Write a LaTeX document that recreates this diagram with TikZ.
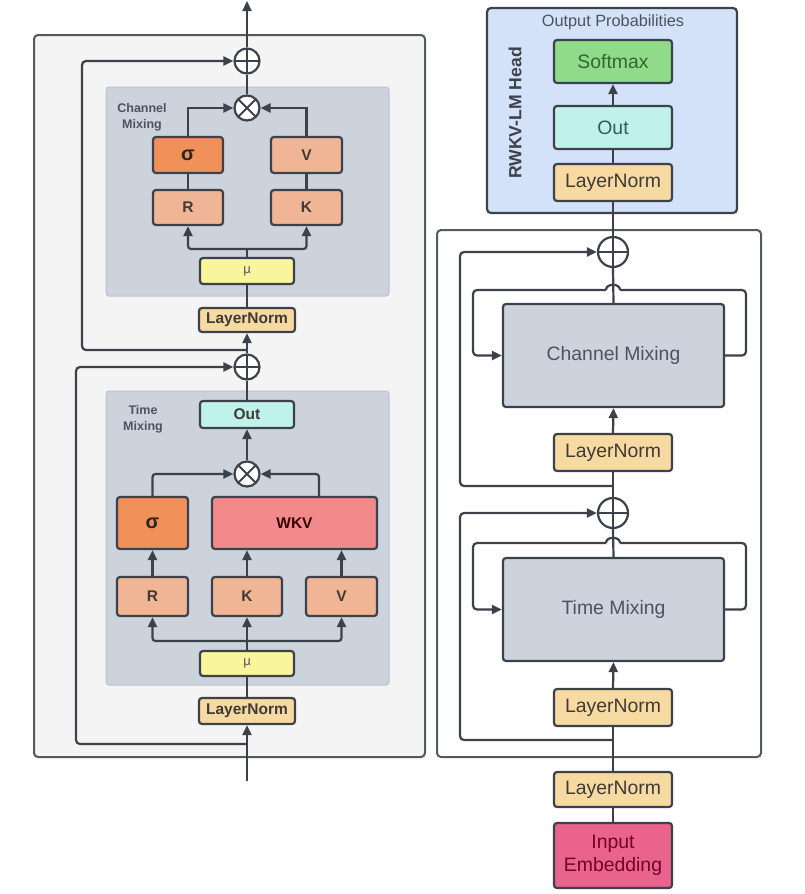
\documentclass[tikz,border=0pt]{standalone}
\usepackage{fontspec}
\setmainfont{Liberation Sans}
\usetikzlibrary{arrows.meta}

\definecolor{ink}{HTML}{3D4149}
\definecolor{outerfill}{HTML}{F4F4F4}
\definecolor{outerline}{HTML}{55585D}
\definecolor{mixfill}{HTML}{CDD3DD}
\definecolor{mixline}{HTML}{BCC2CA}
\definecolor{projfill}{HTML}{EFB594}
\definecolor{sigfill}{HTML}{EF9159}
\definecolor{wkvfill}{HTML}{F28A8C}
\definecolor{mufill}{HTML}{F8F59C}
\definecolor{lnfill}{HTML}{F6DAA2}
\definecolor{outfill}{HTML}{BEF2EB}
\definecolor{smfill}{HTML}{90DB89}
\definecolor{headfill}{HTML}{D3E2F8}
\definecolor{embfill}{HTML}{E9638C}
\definecolor{txtdark}{HTML}{3F3A36}
\definecolor{txtgray}{HTML}{4C5360}

\tikzset{
  x=1pt, y=-1pt,
  conn/.style={draw=ink, line width=2.2pt},
  arr/.style={conn, -{Triangle[length=10pt,width=9pt]}},
  boxbase/.style={draw=ink, line width=2.2pt, rounded corners=3pt, inner sep=0pt, align=center},
  smallbox/.style={boxbase, font=\bfseries\fontsize{15.5}{18}\selectfont, text=txtdark},
  bigbox/.style={boxbase, font=\fontsize{19.4}{23}\selectfont, text=txtgray},
  mixpanel/.style={draw=mixline, line width=1pt, fill=mixfill, rounded corners=3pt, inner sep=0pt},
  panellabel/.style={font=\bfseries\fontsize{12.5}{16}\selectfont, text=txtgray, align=center},
  oplus/.style={circle, draw=ink, line width=2.2pt, fill=white, inner sep=0pt,
    path picture={\draw[ink, line width=2pt]
      (path picture bounding box.north) -- (path picture bounding box.south)
      (path picture bounding box.west) -- (path picture bounding box.east);}},
  otimes/.style={circle, draw=ink, line width=2.2pt, fill=white, inner sep=0pt,
    path picture={\draw[ink, line width=2pt]
      (path picture bounding box.north west) -- (path picture bounding box.south east)
      (path picture bounding box.north east) -- (path picture bounding box.south west);}}
}

\begin{document}
\begin{tikzpicture}
\useasboundingbox (0,0) rectangle (804,894);

% ---------------- single RWKV block, detailed ----------------
\node[draw=outerline, line width=2pt, fill=outerfill, rounded corners=4pt,
      minimum width=391, minimum height=722, inner sep=0pt] (block) at (229.5,396) {};

% channel mixing part
\node[mixpanel, minimum width=283, minimum height=209] (cmpanel) at (247.5,191.5) {};
\node[panellabel] (cmlabel) at (142,117) {Channel\\Mixing};
\node[oplus, minimum size=25] (plusC) at (247,61) {};
\node[otimes, minimum size=25] (timesC) at (247,108) {};
\node[smallbox, fill=sigfill, minimum width=70, minimum height=36,
      font=\bfseries\fontsize{20}{22}\selectfont, text=black!85] (sigC) at (188,155) {σ};
\node[smallbox, fill=projfill, minimum width=71, minimum height=36] (vC) at (306.5,155) {V};
\node[smallbox, fill=projfill, minimum width=70, minimum height=35] (rC) at (188,207.5) {R};
\node[smallbox, fill=projfill, minimum width=71, minimum height=35] (kC) at (306.5,207.5) {K};
\node[smallbox, fill=mufill, minimum width=94, minimum height=26,
      font=\fontsize{13}{15}\selectfont, text=txtgray] (muC) at (247,271) {μ};
\node[smallbox, fill=lnfill, minimum width=96, minimum height=24] (lnC) at (247,320) {LayerNorm};

% time mixing part
\node[oplus, minimum size=25] (plusT) at (247,367) {};
\node[mixpanel, minimum width=283, minimum height=294] (tmpanel) at (247.5,538) {};
\node[panellabel] (tmlabel) at (143,419) {Time\\Mixing};
\node[smallbox, fill=outfill, minimum width=94, minimum height=27] (outT) at (247,414.5) {Out};
\node[otimes, minimum size=25] (timesT) at (247,474) {};
\node[smallbox, fill=sigfill, minimum width=71, minimum height=52,
      font=\bfseries\fontsize{20}{22}\selectfont, text=black!85] (sigT) at (152.5,523) {σ};
\node[smallbox, fill=wkvfill, minimum width=165, minimum height=52, text=black!65!red!60!black] (wkv) at (294.5,523) {WKV};
\node[smallbox, fill=projfill, minimum width=71, minimum height=39] (rT) at (152.5,596.5) {R};
\node[smallbox, fill=projfill, minimum width=70, minimum height=39] (kT) at (247,596.5) {K};
\node[smallbox, fill=projfill, minimum width=71, minimum height=39] (vT) at (341.5,596.5) {V};
\node[smallbox, fill=mufill, minimum width=94, minimum height=25,
      font=\fontsize{13}{15}\selectfont, text=txtgray] (muT) at (247,663.5) {μ};
\node[smallbox, fill=lnfill, minimum width=96, minimum height=26] (lnT) at (247,711) {LayerNorm};

\coordinate (outL) at (247,1);
\coordinate (inL) at (247,781);
\coordinate (tapC) at (247,350);
\coordinate (tapT) at (247,744);
\coordinate (splitC) at (247,249);
\coordinate (splitT) at (247,641);
\coordinate (wkvtop) at (319,497);

% connectors, channel mixing
\draw[arr] (plusC.north) -- (outL);
\draw[conn] (timesC.north) -- (plusC.south);
\draw[arr] (sigC.north) |- (timesC.west);
\draw[arr] (vC.north) |- (timesC.east);
\draw[conn] (rC.north) -- (sigC.south);
\draw[conn] (kC.north) -- (vC.south);
\draw[conn] (muC.north) -- (splitC);
\draw[arr, rounded corners=3pt] (splitC) -| (rC.south);
\draw[arr, rounded corners=3pt] (splitC) -| (kC.south);
\draw[conn] (lnC.north) -- (muC.south);
\draw[arr] (plusT.north) -- (lnC.south);
\draw[arr, rounded corners=4pt] (tapC) -- (82,350) -- (82,61) -- (plusC.west);

% connectors, time mixing
\draw[conn] (outT.north) -- (plusT.south);
\draw[arr] (timesT.north) -- (outT.south);
\draw[arr, rounded corners=3pt] (sigT.north) |- (timesT.west);
\draw[arr, rounded corners=3pt] (wkvtop) |- (timesT.east);
\draw[arr] (rT.north) -- (sigT.south);
\draw[arr] (kT.north) -- (kT.north |- wkv.south);
\draw[arr] (vT.north) -- (vT.north |- wkv.south);
\draw[arr] (muT.north) -- (kT.south);
\draw[arr, rounded corners=3pt] (splitT) -| (rT.south);
\draw[arr, rounded corners=3pt] (splitT) -| (vT.south);
\draw[conn] (lnT.north) -- (muT.south);
\draw[arr] (inL) -- (lnT.south);
\draw[arr, rounded corners=4pt] (tapT) -- (76,744) -- (76,367) -- (plusT.west);

% ---------------- full model ----------------
\node[draw=ink, line width=2.2pt, fill=headfill, rounded corners=4pt,
      minimum width=250, minimum height=205, inner sep=0pt] (head) at (612,110.5) {};
\node[font=\fontsize{16.3}{19}\selectfont, text=txtgray] (probs) at (613,22) {Output Probabilities};
\node[font=\bfseries\fontsize{17.6}{20}\selectfont, text=ink, rotate=90] (headlabel) at (515,113) {RWKV-LM Head};
\node[bigbox, fill=smfill, minimum width=118, minimum height=43, text=green!25!black!80] (softmax) at (613,61.5) {Softmax};
\node[bigbox, fill=outfill, minimum width=118, minimum height=43, text=teal!40!black!80] (outH) at (613,127.5) {Out};
\node[bigbox, fill=lnfill, minimum width=118, minimum height=37, text=txtdark] (lnH) at (613,182.5) {LayerNorm};

\node[draw=outerline, line width=2pt, fill=white, rounded corners=4pt,
      minimum width=324, minimum height=527, inner sep=0pt] (stack) at (599,493.5) {};

\node[oplus, minimum size=30] (plusA) at (613,252) {};
\node[bigbox, fill=mixfill, minimum width=221, minimum height=103] (cmbox) at (613.5,355.5) {Channel Mixing};
\node[bigbox, fill=lnfill, minimum width=118, minimum height=37, text=txtdark] (lnA) at (613,452.5) {LayerNorm};
\node[oplus, minimum size=30] (plusB) at (613,513) {};
\node[bigbox, fill=mixfill, minimum width=221, minimum height=103] (tmbox) at (613.5,609.5) {Time Mixing};
\node[bigbox, fill=lnfill, minimum width=118, minimum height=37, text=txtdark] (lnB) at (613,707.5) {LayerNorm};
\node[bigbox, fill=lnfill, minimum width=118, minimum height=35, text=txtdark] (lnE) at (613,789.5) {LayerNorm};
\node[bigbox, fill=embfill, minimum width=118, minimum height=65, text=purple!60!black] (emb) at (613,855.5) {Input\\Embedding};

\coordinate (tapA) at (613,486);
\coordinate (tapB) at (613,740);

% head connectors
\draw[arr] (outH.north) -- (softmax.south);
\draw[conn] (lnH.north) -- (outH.south);
\draw[conn] (plusA.north) -- (lnH.south);

% channel mixing stage
\draw[conn] (cmbox.north) -- (plusA.south);
\draw[arr] (lnA.north) -- (cmbox.south);
\draw[conn] (plusB.north) -- (lnA.south);
\draw[arr, rounded corners=4pt] (tapA) -- (460,486) -- (460,252) -- (plusA.west);
\draw[conn, rounded corners=4pt] (cmbox.east) -- (746,355.5) -- (746,290) -- (620,290);
\draw[conn] (620,290) .. controls (620,283) and (606,283) .. (606,290);
\draw[arr, rounded corners=4pt] (606,290) -- (473,290) -- (473,355.5) -- (cmbox.west);

% time mixing stage
\draw[conn] (tmbox.north) -- (plusB.south);
\draw[arr] (lnB.north) -- (tmbox.south);
\draw[conn] (lnE.north) -- (lnB.south);
\draw[arr, rounded corners=4pt] (tapB) -- (460,740) -- (460,513) -- (plusB.west);
\draw[conn, rounded corners=4pt] (tmbox.east) -- (746,609.5) -- (746,543) -- (620,543);
\draw[conn] (620,543) .. controls (620,536) and (606,536) .. (606,543);
\draw[arr, rounded corners=4pt] (606,543) -- (473,543) -- (473,609.5) -- (tmbox.west);

% embedding input
\draw[conn] (emb.north) -- (lnE.south);
\end{tikzpicture}
\end{document}
